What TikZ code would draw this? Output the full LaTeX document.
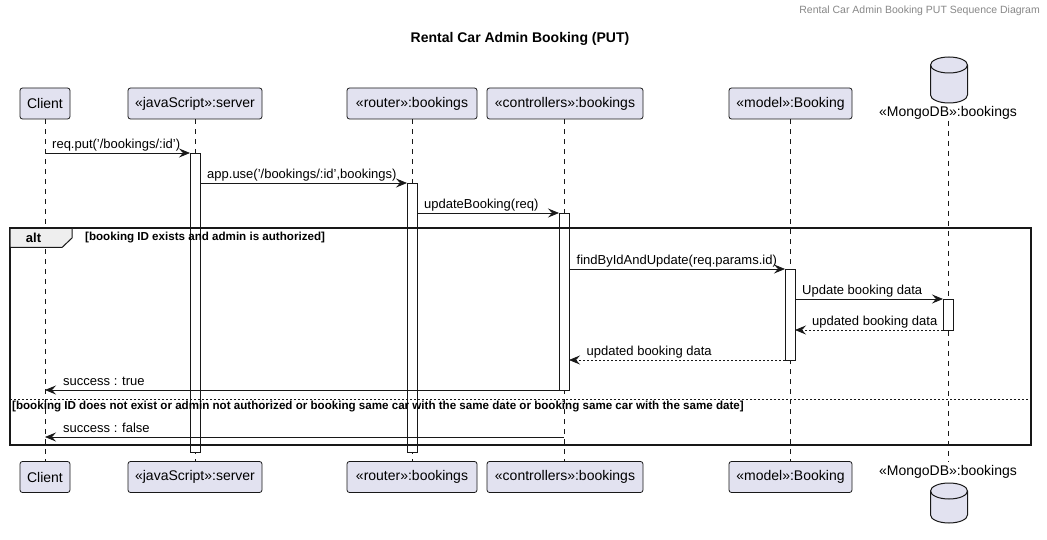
\documentclass[tikz,border=0pt]{standalone}
\usepackage{fontspec}
\setmainfont{Liberation Sans}
\usetikzlibrary{arrows.meta}
\definecolor{partfill}{HTML}{E2E2F0}
\definecolor{lineclr}{HTML}{181818}
\definecolor{tabfill}{HTML}{EEEEEE}
\definecolor{hdrgray}{HTML}{888888}
\tikzset{
  part/.style={draw=lineclr, fill=partfill, rounded corners=2.5pt, line width=0.8pt,
    minimum height=31pt, inner xsep=0pt, inner ysep=0pt, font=\fontsize{14}{16}\selectfont},
  lifeline/.style={draw=lineclr, line width=0.6pt, dash pattern=on 5pt off 5pt},
  actbar/.style={draw=lineclr, fill=white, line width=0.8pt},
  msg/.style={draw=lineclr, line width=0.8pt, -{Stealth[length=11pt,width=9pt,inset=4pt]}},
  ret/.style={msg, dash pattern=on 2pt off 2pt},
  mlabel/.style={font=\fontsize{13}{15}\selectfont, inner sep=0pt, anchor=base west},
  cond/.style={font=\bfseries\fontsize{11.6}{13}\selectfont, inner sep=0pt, anchor=west},
}
\begin{document}
\begin{tikzpicture}[x=1pt,y=-1pt]
\useasboundingbox[fill=white] (0,0) rectangle (1047,540);

% header and title
\node[anchor=east, inner sep=0pt, text=hdrgray, font=\fontsize{10.5}{12}\selectfont] (hdr) at (1040,11) {Rental Car Admin Booking PUT Sequence Diagram};
\node[inner sep=0pt, font=\bfseries\fontsize{14}{16}\selectfont] (title) at (520,39) {Rental Car Admin Booking (PUT)};

% participants (top)
\node[part, minimum width=50pt]  (cT) at (45,103.5)  {Client};
\node[part, minimum width=134pt] (sT) at (195,103.5) {«javaScript»:server};
\node[part, minimum width=130pt] (rT) at (412,103.5) {«router»:bookings};
\node[part, minimum width=156pt] (kT) at (565,103.5) {«controllers»:bookings};
\node[part, minimum width=123pt] (mT) at (790.5,103.5) {«model»:Booking};
% participants (bottom)
\node[part, minimum width=50pt]  (cB) at (45,477)  {Client};
\node[part, minimum width=134pt] (sB) at (195,477) {«javaScript»:server};
\node[part, minimum width=130pt] (rB) at (412,477) {«router»:bookings};
\node[part, minimum width=156pt] (kB) at (565,477) {«controllers»:bookings};
\node[part, minimum width=123pt] (mB) at (790.5,477) {«model»:Booking};

% database top
\draw[draw=lineclr, fill=partfill, line width=1pt]
  (930.5,65) -- (930.5,95) arc[start angle=180, end angle=0, x radius=18.5, y radius=8]
  -- (967.5,65) arc[start angle=0, end angle=-180, x radius=18.5, y radius=8] -- cycle;
\draw[draw=lineclr, line width=1pt] (930.5,65) arc[start angle=180, end angle=0, x radius=18.5, y radius=8];
\node[inner sep=0pt, font=\fontsize{14}{16}\selectfont] (dT) at (948,113) {«MongoDB»:bookings};
% database bottom
\node[inner sep=0pt, font=\fontsize{14}{16}\selectfont] (dB) at (948,472) {«MongoDB»:bookings};
\draw[draw=lineclr, fill=partfill, line width=1pt]
  (930.5,491) -- (930.5,515) arc[start angle=180, end angle=0, x radius=18.5, y radius=8]
  -- (967.5,491) arc[start angle=0, end angle=-180, x radius=18.5, y radius=8] -- cycle;
\draw[draw=lineclr, line width=1pt] (930.5,491) arc[start angle=180, end angle=0, x radius=18.5, y radius=8];

% lifelines
\coordinate (dTl) at (948,121);
\coordinate (dBl) at (948,462);
\draw[lifeline] (cT.south) -- (cB.north);
\draw[lifeline] (sT.south) -- (sB.north);
\draw[lifeline] (rT.south) -- (rB.north);
\draw[lifeline] ([xshift=-1pt]kT.south) -- ([xshift=-1pt]kB.north);
\draw[lifeline] ([xshift=-0.5pt]mT.south) -- ([xshift=-0.5pt]mB.north);
\draw[lifeline] (dTl) -- (dBl);

% activation bars
\draw[actbar] (190,153) rectangle (200,452);
\draw[actbar] (407,183) rectangle (417,452);
\draw[actbar] (559,213) rectangle (569,390);
\draw[actbar] (785,269) rectangle (795,360);
\draw[actbar] (943,299) rectangle (953,330);

% alt frame
\draw[draw=lineclr, line width=1.5pt] (10,228) rectangle (1031,445);
\draw[draw=lineclr, fill=tabfill, line width=1pt] (10,228) -- (72,228) -- (72,238) -- (62,247.5) -- (10,247.5) -- cycle;
\draw[draw=lineclr, line width=1.5pt] (10,228) -- (72,228);
\node[inner sep=0pt, font=\bfseries\fontsize{13}{15}\selectfont] (alt) at (33.5,238) {alt};
\node[cond] (c1) at (85,238) {[booking ID exists and admin is authorized]};
\draw[draw=lineclr, line width=0.8pt, dash pattern=on 2pt off 2pt] (10,399) -- (1031,399);
\node[cond] (c2) at (12,407) {[booking ID does not exist or admin not authorized or booking same car with the same date or booking same car with the same date]};

% message coordinates
\coordinate (m1s) at (45,153);  \coordinate (m1e) at (190,153);
\coordinate (m2s) at (200,183); \coordinate (m2e) at (407,183);
\coordinate (m3s) at (417,213); \coordinate (m3e) at (559,213);
\coordinate (m4s) at (569,269); \coordinate (m4e) at (785,269);
\coordinate (m5s) at (795,299); \coordinate (m5e) at (943,299);
\coordinate (m6s) at (943,330); \coordinate (m6e) at (795,330);
\coordinate (m7s) at (785,360); \coordinate (m7e) at (569,360);
\coordinate (m8s) at (559,390); \coordinate (m8e) at (45,390);
\coordinate (m9s) at (564,437); \coordinate (m9e) at (45,437);

\draw[msg] (m1s) -- (m1e);
\draw[msg] (m2s) -- (m2e);
\draw[msg] (m3s) -- (m3e);
\draw[msg] (m4s) -- (m4e);
\draw[msg] (m5s) -- (m5e);
\draw[ret] (m6s) -- (m6e);
\draw[ret] (m7s) -- (m7e);
\draw[msg] (m8s) -- (m8e);
\draw[msg] (m9s) -- (m9e);

\node[mlabel] (l1) at (52,148.5)  {req.put('/bookings/:id')};
\node[mlabel] (l2) at (207,178.5) {app.use('/bookings/:id',bookings)};
\node[mlabel] (l3) at (424,208.5) {updateBooking(req)};
\node[mlabel] (l4) at (576.5,264.5) {findByIdAndUpdate(req.params.id)};
\node[mlabel] (l5) at (802,294.5) {Update booking data};
\node[mlabel] (l6) at (812,325.5) {updated booking data};
\node[mlabel] (l7) at (586.5,355.5) {updated booking data};
\node[mlabel] (l8) at (63,385.5)  {success : true};
\node[mlabel] (l9) at (63,432.5)  {success : false};
\end{tikzpicture}
\end{document}
